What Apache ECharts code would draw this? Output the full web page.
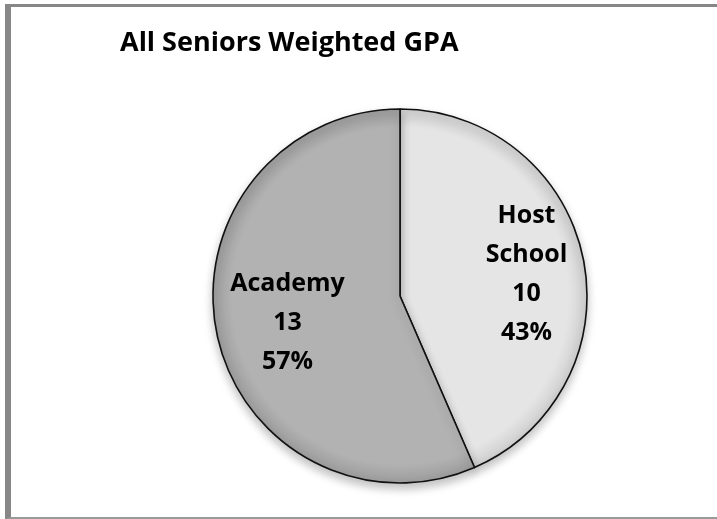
<!DOCTYPE html>
<html>
<head>
<meta charset="utf-8">
<script src="https://cdn.jsdelivr.net/npm/echarts@6/dist/echarts.min.js"></script>
<style>
  html, body { margin: 0; padding: 0; background: #ffffff; overflow: hidden; width: 717px; height: 519px; }
  #frame {
    position: absolute; left: 5px; top: 4px; width: 740px; height: 515px;
    border-left: 6px solid #878787; border-top: 3px solid #878787; border-bottom: 2px solid #9a9a9a;
    border-right: none;
    box-sizing: border-box;
  }
  #chart { position: absolute; left: 0; top: 0; width: 717px; height: 519px; }
</style>
</head>
<body>
<div id="frame"></div>
<div id="chart"></div>
<script>
// Senior counts by school
const categories = ['Host School', 'Academy'];
const seniorCounts = [10, 13];
const sliceColors = ['#e5e5e5', '#b2b2b2'];
const rimColors = ['#cfcfcf', '#9c9c9c'];

const chart = echarts.init(document.getElementById('chart'), null, { renderer: 'canvas' });

const CX = 400, CY = 296, R = 187;
const labelOffsets = [[32, -2], [-18, 7]];

function shade(i) {
  return {
    type: 'radial', x: CX, y: CY, r: R, global: true,
    colorStops: [
      { offset: 0, color: sliceColors[i] },
      { offset: 0.9, color: sliceColors[i] },
      { offset: 1, color: rimColors[i] }
    ]
  };
}

const fontFamily = '"Open Sans", sans-serif';

chart.setOption({
  animation: false,
  backgroundColor: 'transparent',
  title: {
    text: 'All Seniors Weighted GPA',
    left: 115, top: 25,
    textStyle: { fontFamily, fontWeight: 'bold', fontSize: 27, color: '#000' }
  },
  series: [{
    type: 'pie',
    center: [CX, CY],
    radius: R,
    startAngle: 90,
    clockwise: true,
    percentPrecision: 0,
    label: {
      show: true,
      position: 'inside',
      formatter: p => p.name.replace(' ', '\n') + '\n' + p.value + '\n' + p.percent + '%',
      fontFamily, fontWeight: 'bold', fontSize: 25, lineHeight: 39, color: '#000', align: 'center'
    },
    labelLine: { show: false },
    itemStyle: {
      borderColor: '#111', borderWidth: 1.6,
      shadowBlur: 10, shadowOffsetY: 5, shadowColor: 'rgba(0,0,0,0.25)'
    },
    emphasis: { disabled: true },
    data: categories.map((name, i) => ({
      name,
      value: seniorCounts[i],
      itemStyle: { color: shade(i) },
      label: { offset: labelOffsets[i] }
    }))
  }]
});
</script>
</body>
</html>
